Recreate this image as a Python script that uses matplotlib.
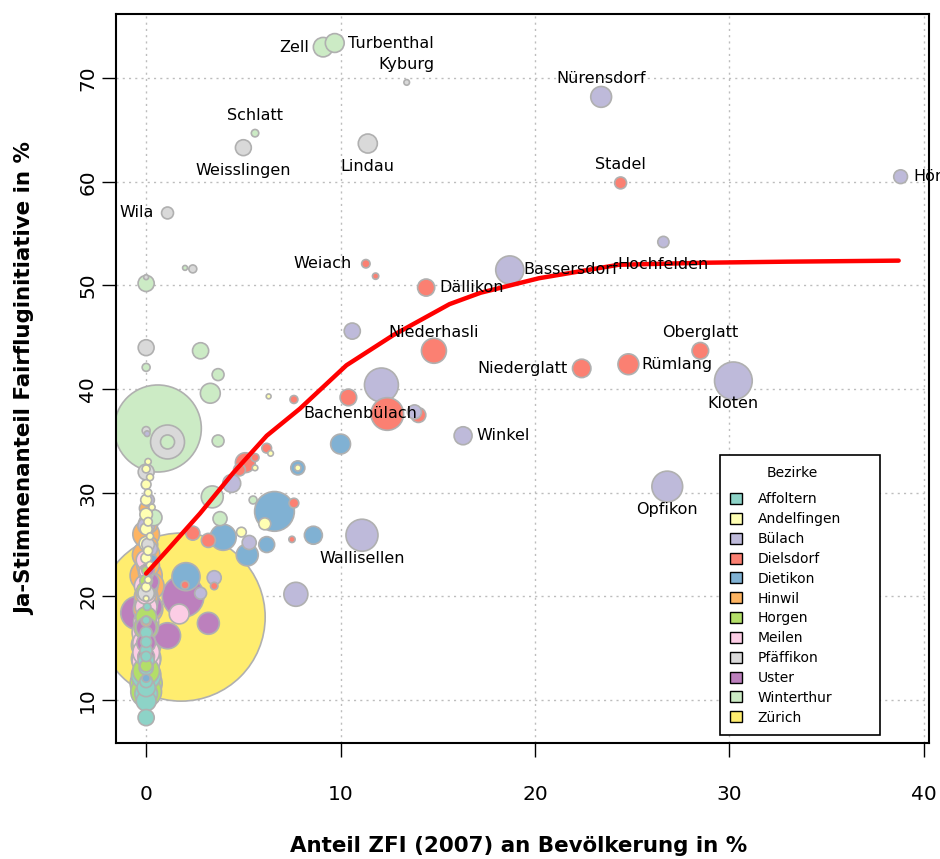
import matplotlib
matplotlib.use('Agg')
import matplotlib.pyplot as plt
from matplotlib.patches import Patch
import numpy as np

plt.rcParams['font.family'] = ['DejaVu Sans']

# ==========================================
# Daten: Bezirke, Farben (RColorBrewer Set3)
# ==========================================
BEZIRKE = ['Affoltern', 'Andelfingen', 'Bülach', 'Dielsdorf', 'Dietikon', 'Hinwil',
           'Horgen', 'Meilen', 'Pfäffikon', 'Uster', 'Winterthur', 'Zürich']
FARBEN = ['#8DD3C7', '#FFFFB3', '#BEBADA', '#FB8072', '#80B1D3', '#FDB462',
          '#B3DE69', '#FCCDE5', '#D9D9D9', '#BC80BD', '#CCEBC5', '#FFED6F']

# Anteil ZFI (2007) an Bevölkerung in %
ZFI = {
    'Affoltern': [0, 0, 0, 0, 0, 0, 0, 0, 0, 0, 0.05, 0, 0, 0],
    'Andelfingen': [0.1, 0, 0.2, 0, 0.1, 0, 0.3, 0, 0.1, 0, 0.2, 0, 0.1, 0, 0.2, 0, 0.1, 0, 0,
                    6.3, 6.4, 5.6, 6.1, 4.9, 7.8],
    'Bülach': [30.2, 26.8, 11.1, 18.7, 23.4, 38.8, 26.6, 16.3, 12.1, 7.7, 10.6, 13.8, 4.4, 5.3,
               3.5, 2.8, 0.1, 0, 0.2, 0.05],
    'Dielsdorf': [24.4, 11.3, 14.4, 14.8, 28.5, 24.8, 22.4, 12.4, 10.4, 14.0, 11.8, 7.6, 6.2,
                  5.1, 5.6, 4.8, 7.6, 2.4, 3.2, 7.5, 2.0, 3.5],
    'Dietikon': [6.6, 2.05, 10.0, 7.8, 3.96, 6.2, 8.6, 5.2, 0, 0.3],
    'Hinwil': [0, 0.1, 0, 0.2, 0, 0.1, 0, 0.2, 0, 0.1, 0],
    'Horgen': [0, 0, 0, 0, 0, 0, 0, 0, 0, 0, 0, 0],
    'Meilen': [0, 0, 0, 0, 0, 1.7, 0, 0, 0, 0, 0],
    'Pfäffikon': [1.1, 11.4, 5.0, 1.1, 13.4, 0, 0, 2.4, 0, 0, 0, 0.1],
    'Uster': [1.9, -0.45, 1.1, 3.2, 0.2, 0, 0, 0.2, 0, 0.1],
    'Winterthur': [0.6, 9.1, 9.7, 5.6, 0, 2.8, 0, 3.7, 3.3, 3.7, 3.4, 0.4, 3.8, 5.5, 1.1, 2.0],
    'Zürich': [1.8],
}

# Ja-Stimmenanteil Fairfluginitiative in %
JA = {
    'Affoltern': [8.3, 9.9, 11.2, 12.4, 13.1, 13.8, 14.8, 15.6, 16.5, 17.7, 19.0, 11.8, 10.6, 14.2],
    'Andelfingen': [33.0, 32.3, 31.5, 30.8, 30.0, 29.3, 28.6, 27.9, 27.2, 26.5, 25.8, 25.1, 24.4,
                    23.7, 23.0, 22.3, 21.6, 20.9, 19.8, 39.3, 33.8, 32.4, 27.0, 26.2, 32.4],
    'Bülach': [40.8, 30.6, 25.9, 51.5, 68.2, 60.5, 54.2, 35.5, 40.4, 20.2, 45.6, 37.8, 30.9, 25.2,
               21.8, 20.3, 29.3, 26.8, 24.6, 35.7],
    'Dielsdorf': [59.9, 52.1, 49.8, 43.7, 43.7, 42.4, 42.0, 37.6, 39.2, 37.5, 50.9, 39.0, 34.3,
                  32.9, 33.4, 32.2, 29.0, 26.1, 25.4, 25.5, 21.1, 21.0],
    'Dietikon': [28.2, 21.9, 34.7, 32.4, 25.7, 25.0, 25.9, 24.0, 12.1, 23.5],
    'Hinwil': [28.5, 27.0, 26.0, 25.0, 24.0, 23.0, 22.0, 21.0, 20.0, 18.8, 17.6],
    'Horgen': [10.8, 11.6, 12.8, 14.0, 15.3, 17.0, 18.0, 19.5, 20.5, 21.5, 22.5, 13.3],
    'Meilen': [13.8, 14.6, 15.5, 16.5, 17.5, 18.3, 19.0, 20.2, 21.0, 22.4, 23.5],
    'Pfäffikon': [34.9, 63.7, 63.3, 57.0, 69.6, 44.0, 32.0, 51.6, 50.8, 36.0, 20.3, 25.0],
    'Uster': [20.0, 18.4, 16.2, 17.4, 21.4, 15.5, 17.0, 19.0, 14.2, 22.6],
    'Winterthur': [36.2, 73.0, 73.4, 64.7, 50.2, 43.7, 42.1, 41.4, 39.6, 35.0, 29.6, 27.6, 27.5,
                   29.3, 34.9, 51.7],
    'Zürich': [18.0],
}

# Einwohner (Blasengrösse)
EINW = {
    'Affoltern': [3300, 5000, 4200, 11000, 2500, 3300, 1800, 1500, 1800, 800, 700, 2000, 6500, 1300],
    'Andelfingen': [500, 800, 600, 1200, 700, 1500, 500, 2000, 900, 1800, 600, 2500, 1000, 1400,
                    700, 3000, 600, 1100, 400, 300, 400, 400, 1800, 1200, 500],
    'Bülach': [18000, 12000, 13000, 10000, 5500, 2400, 1600, 4100, 14600, 7300, 3300, 2500, 4100,
               2500, 2500, 1800, 2000, 3500, 2800, 400],
    'Dielsdorf': [1800, 900, 3700, 7900, 3500, 5500, 4300, 13500, 3500, 2800, 500, 800, 1200,
                  5000, 800, 1800, 1200, 2500, 2500, 500, 800, 700],
    'Dietikon': [20000, 10000, 5000, 2500, 8600, 3200, 4100, 6100, 800, 1500],
    'Hinwil': [2300, 4700, 9000, 3000, 9500, 6500, 13000, 10000, 7000, 11000, 1300],
    'Horgen': [12000, 13000, 9000, 11000, 11000, 7500, 5500, 7000, 4700, 2000, 900, 1900],
    'Meilen': [10000, 9000, 9000, 10000, 8000, 5000, 6000, 5000, 7000, 2300, 5000],
    'Pfäffikon': [14600, 4600, 3200, 1800, 400, 3200, 3200, 800, 300, 800, 3300, 2000],
    'Uster': [22000, 14000, 8600, 6100, 4000, 4500, 5000, 7500, 3500, 2000],
    'Winterthur': [96000, 4800, 4500, 700, 3300, 3300, 800, 1800, 5000, 1800, 6100, 3300, 2500,
                   800, 2500, 300],
    'Zürich': [358000],
}

# beschriftete Gemeinden
LABEL_NAMEN = ['Zell', 'Turbenthal', 'Kyburg', 'Schlatt', 'Weisslingen', 'Lindau', 'Wila',
               'Nürensdorf', 'Stadel', 'Höri', 'Weiach', 'Dällikon', 'Bassersdorf', 'Hochfelden',
               'Niederhasli', 'Oberglatt', 'Niederglatt', 'Rümlang', 'Kloten', 'Bachenbülach',
               'Winkel', 'Opfikon', 'Wallisellen']
LABEL_X = [9.1, 9.7, 13.4, 5.6, 5.0, 11.4, 1.1, 23.4, 24.4, 38.8, 11.3, 14.4, 18.7, 26.6,
           14.8, 28.5, 22.4, 24.8, 30.2, 13.8, 16.3, 26.8, 11.1]
LABEL_Y = [73.0, 73.4, 69.6, 64.7, 63.3, 63.7, 57.0, 68.2, 59.9, 60.5, 52.1, 49.8, 51.5, 54.2,
           43.7, 43.7, 42.0, 42.4, 40.8, 37.8, 35.5, 30.6, 25.9]
LABEL_POS = ['links', 'rechts', 'oben', 'oben', 'unten', 'unten', 'links', 'oben', 'oben',
             'rechts', 'links', 'rechts', 'rechts', 'unten', 'oben', 'oben', 'links', 'rechts',
             'unten', 'spezial', 'rechts', 'unten', 'unten']

# Glättungskurve (loess)
KURVE_X = [0, 1.06, 2.77, 4.47, 6.2, 7.9, 10.3, 12.7, 15.6, 17.2, 20.2, 24.3, 28.8, 33.0, 38.7]
KURVE_Y = [22.2, 24.4, 28.0, 31.9, 35.5, 38.1, 42.3, 45.2, 48.2, 49.3, 50.7, 52.0, 52.2, 52.3, 52.4]

# ==========================================
# Zeichnen
# ==========================================
fig = plt.figure(figsize=(9.4, 8.59), dpi=100)
ax = fig.add_axes([116 / 940, 1 - 743 / 859, 813 / 940, 729 / 859])

xs, ys, ss, cs = [], [], [], []
for b, farbe in zip(BEZIRKE, FARBEN):
    for x, y, e in zip(ZFI[b], JA[b], EINW[b]):
        xs.append(x)
        ys.append(y)
        ss.append(e)
        cs.append(farbe)
xs, ys, ss = np.array(xs), np.array(ys), np.array(ss, dtype=float)
order = np.argsort(-ss)  # grosse Blasen zuerst
ax.scatter(xs[order], ys[order], s=0.0409 * ss[order], c=[cs[i] for i in order],
           edgecolors='#b0b0b0', linewidths=1.2, zorder=2)

ax.plot(KURVE_X, KURVE_Y, color='red', lw=3.2, solid_capstyle='round', zorder=3)

# Beschriftungen
offs = {'oben': (0, 13, 'center'), 'unten': (0, -16.5, 'center'),
        'links': (-10, 0, 'right'), 'rechts': (9.5, 0, 'left'), 'spezial': (-39, -1, 'center')}
for name, x, y, pos in zip(LABEL_NAMEN, LABEL_X, LABEL_Y, LABEL_POS):
    dx, dy, ha = offs[pos]
    ax.annotate(name, (x, y), xytext=(dx, dy), textcoords='offset points',
                ha=ha, va='center', fontsize=11.5, zorder=4)

ax.set_xlim(-1.55, 40.26)
ax.set_ylim(5.85, 76.2)
ax.set_xticks([0, 10, 20, 30, 40])
ax.set_yticks([10, 20, 30, 40, 50, 60, 70])
ax.grid(True, color='#bdbdbd', linestyle=(0, (1.5, 3)), lw=1)
ax.set_axisbelow(True)
ax.tick_params(axis='both', direction='out', length=10, width=1, labelsize=14.5)
ax.tick_params(axis='x', pad=20)
ax.tick_params(axis='y', pad=3.5)
for lab in ax.get_yticklabels():
    lab.set_rotation(90)
    lab.set_va('center')
for sp in ax.spines.values():
    sp.set_linewidth(1.5)

fig.text(519 / 940, 1 - 846 / 859, 'Anteil ZFI (2007) an Bevölkerung in %',
         ha='center', va='center', fontsize=15.4, fontweight='bold')
fig.text(25 / 940, 1 - 379 / 859, 'Ja-Stimmenanteil Fairfluginitiative in %',
         ha='center', va='center', rotation=90, fontsize=15.4, fontweight='bold')

handles = [Patch(facecolor=f, edgecolor='black', lw=1) for f in FARBEN]
leg = ax.legend(handles, BEZIRKE, title='Bezirke', loc='lower left', mode='expand',
                bbox_to_anchor=(604 / 813, 8 / 729, 160 / 813, 0.3), borderaxespad=0,
                fontsize=10, title_fontsize=10, handlelength=0.85, handleheight=0.85,
                labelspacing=0.42, handletextpad=1.1, borderpad=0.75, fancybox=False,
                framealpha=1, edgecolor='black')
leg.get_frame().set_linewidth(1.2)
leg.get_title().set_position((-8, 0))
leg._legend_box.sep = 9
leg.set_zorder(5)

fig.savefig('out.png', dpi=100)
